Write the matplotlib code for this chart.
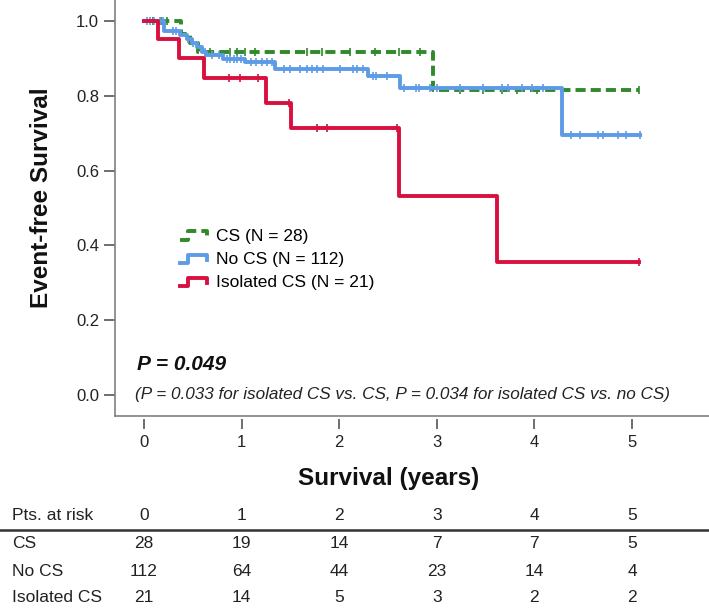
import numpy as np
import matplotlib
matplotlib.use("Agg")
import matplotlib.pyplot as plt
from matplotlib.lines import Line2D
from matplotlib.legend_handler import HandlerBase
from matplotlib.transforms import blended_transform_factory

plt.rcParams['font.family'] = ['Liberation Sans', 'DejaVu Sans']

# Kaplan-Meier steps (time in years, survival after the step)
cs_t = [0, 0.38, 0.47, 0.55, 2.96, 5.07]
cs_s = [1.0, 0.964, 0.94, 0.916, 0.815, 0.815]
cs_cens = [0.09, 0.17, 0.24, 0.68, 0.88, 0.95, 1.03, 1.14, 1.67, 1.82, 2.11, 2.37,
           2.61, 2.83, 3.24, 3.47, 3.67, 3.82, 4.03, 5.07]

nocs_t = [0, 0.21, 0.37, 0.44, 0.49, 0.54, 0.59, 0.64, 0.81, 1.03, 1.34, 2.29, 2.62, 4.28, 5.08]
nocs_s = [1.0, 0.974, 0.963, 0.951, 0.94, 0.93, 0.918, 0.909, 0.898, 0.889, 0.872, 0.853,
          0.82, 0.695, 0.695]
nocs_cens = [0.03, 0.06, 0.1, 0.16, 0.19, 0.3, 0.33, 0.45, 0.5, 0.62, 0.7, 0.77, 0.85, 0.88,
             0.92, 0.95, 0.99, 1.1, 1.15, 1.21, 1.26, 1.31, 1.43, 1.5, 1.6, 1.67, 1.72, 1.77,
             1.83, 2.01, 2.14, 2.18, 2.24, 2.35, 2.38, 2.49, 2.66, 2.79, 2.82, 2.93, 3.0,
             3.24, 3.47, 3.67, 3.73, 3.87, 3.98, 4.09, 4.38, 4.47, 4.65, 4.70, 4.86, 4.94, 5.08]

iso_t = [0, 0.14, 0.36, 0.61, 1.25, 1.51, 2.61, 3.62, 5.07]
iso_s = [1.0, 0.951, 0.90, 0.848, 0.78, 0.713, 0.533, 0.355, 0.355]
iso_cens = [0.87, 0.98, 1.17, 1.49, 1.77, 1.87, 2.59, 5.07]

labels = ['CS (N = 28)', 'No CS (N = 112)', 'Isolated CS (N = 21)']
colors = ['#2E8A2A', '#5E9BE6', '#D8103F']

# numbers at risk
risk_years = [0, 1, 2, 3, 4, 5]
risk_rows = ['CS', 'No CS', 'Isolated CS']
risk_cs = [28, 19, 14, 7, 7, 5]
risk_nocs = [112, 64, 44, 23, 14, 4]
risk_iso = [21, 14, 5, 3, 2, 2]


class StepHandler(HandlerBase):
    # little step glyph used as legend key
    def create_artists(self, legend, orig_handle, xdescent, ydescent, width, height, fontsize, trans):
        xs = np.array([0.0, 0.3, 0.3, 1.0, 1.0]) * width - xdescent
        ys = np.array([0.1, 0.1, 0.8, 0.8, 0.35]) * height - ydescent
        line = Line2D(xs, ys)
        line.update_from(orig_handle)
        line.set_transform(trans)
        return [line]


def level_at(t, times, surv):
    idx = np.searchsorted(times, t, side='right') - 1
    return np.array(surv)[idx]


W, H = 709, 609
fig = plt.figure(figsize=(W / 100, H / 100), dpi=100)
ax = fig.add_axes([115 / W, 1 - 416 / H, 594 / W, 416 / H])

groups = [(cs_t, cs_s, cs_cens), (nocs_t, nocs_s, nocs_cens), (iso_t, iso_s, iso_cens)]
handles = []
for i, (t, s, c) in enumerate(groups):
    ls = (0, (2.6, 1.3)) if i == 0 else '-'
    h, = ax.step(t, s, where='post', color=colors[i], lw=2.8, linestyle=ls, zorder=2 + i)
    handles.append(h)
    ax.plot(c, level_at(np.array(c), t, s), linestyle='none', marker='|', markersize=6,
            markeredgewidth=1.2, color=colors[i], zorder=2 + i)

ax.set_xlim((115 - 144) / 97.6, (709 - 144) / 97.6)
ax.set_ylim(-0.056, 1.056)
ax.set_xticks(risk_years)
ax.set_yticks([0.0, 0.2, 0.4, 0.6, 0.8, 1.0])
ax.set_yticklabels(['0.0', '0.2', '0.4', '0.6', '0.8', '1.0'])
ax.tick_params(axis='both', labelsize=12, length=8, width=1.2, color='#555555', labelcolor='#222222')
ax.tick_params(axis='x', pad=5, length=7)
ax.tick_params(axis='y', pad=3.5)
for sp in ['top', 'right']:
    ax.spines[sp].set_visible(False)
ax.spines['left'].set_color('#808080')
ax.spines['left'].set_linewidth(1.2)
# x ticks sit a little below the axis line
ax.spines['bottom'].set_position(('outward', 2))
ax.spines['bottom'].set_visible(False)
ax.plot([0, 1], [0, 0], transform=ax.transAxes, color='#808080', lw=1.2, clip_on=False, zorder=5)

fig.text(42 / W, 1 - 198 / H, 'Event-free Survival', rotation=90, ha='center', va='center',
         fontsize=17.5, fontweight='bold', color='#111111')
fig.text(389 / W, 1 - 478 / H, 'Survival (years)', ha='center', va='center',
         fontsize=17.5, fontweight='bold', color='#111111')

ax.legend(handles, labels, handler_map={h: StepHandler() for h in handles},
          loc='upper left', bbox_to_anchor=(180 / W, 1 - 229 / H), bbox_transform=fig.transFigure,
          frameon=False, fontsize=12.5, borderpad=0, borderaxespad=0, handlelength=1.55,
          handletextpad=0.5, labelspacing=0.46)

ax.text(0.037, (416 - 365) / 416, 'P = 0.049', transform=ax.transAxes, ha='left', va='center',
        fontsize=15, fontweight='bold', fontstyle='italic', color='#111111')
ax.text(0.034, (416 - 395) / 416,
        '(P = 0.033 for isolated CS vs. CS, P = 0.034 for isolated CS vs. no CS)',
        transform=ax.transAxes, ha='left', va='center', fontsize=12.3, fontstyle='italic',
        color='#222222')

# numbers-at-risk table
tr = blended_transform_factory(ax.transData, fig.transFigure)
fig.text(12 / W, 1 - 515 / H, 'Pts. at risk', ha='left', va='center', fontsize=12.5, color='#222222')
for yr in risk_years:
    ax.text(yr, 1 - 515 / H, str(yr), transform=tr, ha='center', va='center', fontsize=12.5,
            color='#222222', clip_on=False)
fig.add_artist(Line2D([0, 1], [1 - 530 / H, 1 - 530 / H], transform=fig.transFigure,
                      color='#333333', lw=1.8))
row_y = [543, 571, 597]
for name, vals, py in zip(risk_rows, [risk_cs, risk_nocs, risk_iso], row_y):
    fig.text(12 / W, 1 - py / H, name, ha='left', va='center', fontsize=12.5, color='#222222')
    for yr, v in zip(risk_years, vals):
        ax.text(yr, 1 - py / H, str(v), transform=tr, ha='center', va='center', fontsize=12.5,
                color='#222222', clip_on=False)

fig.savefig('out.png', dpi=100)
